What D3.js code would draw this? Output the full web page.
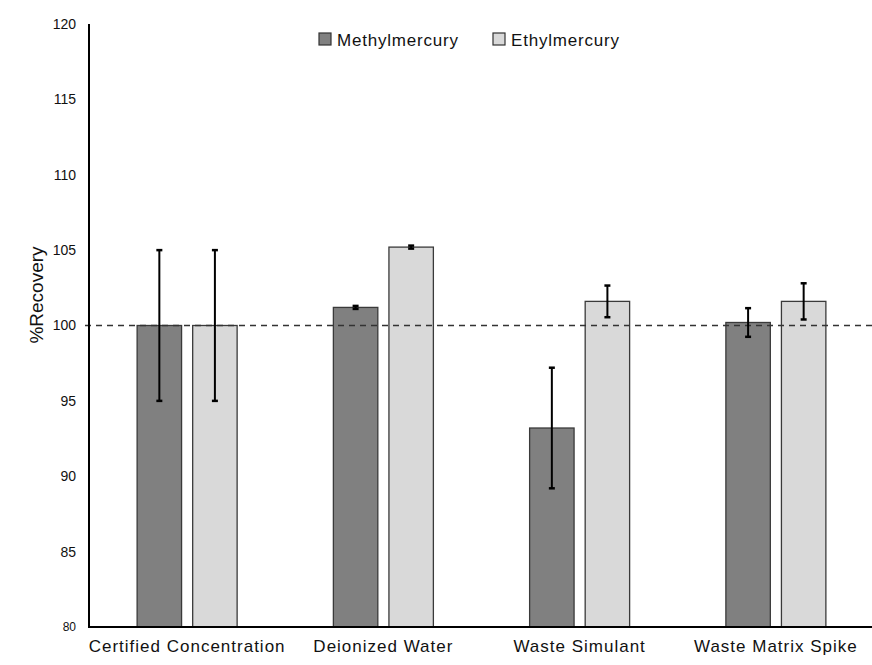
<!DOCTYPE html>
<html>
<head>
<meta charset="UTF-8">
<title>%Recovery</title>
<script src="https://cdn.jsdelivr.net/npm/d3@7"></script>
<style>
  body { margin: 0; background: #fff; }
  svg { display: block; font-family: "Liberation Sans", Arial, sans-serif; }
</style>
</head>
<body>
<script>
// data
var categories = ["Certified Concentration", "Deionized Water", "Waste Simulant", "Waste Matrix Spike"];
var seriesNames = ["Methylmercury", "Ethylmercury"];
var methylValues = [100, 101.2, 93.2, 100.2];
var methylErrors = [5, 0.1, 4.0, 0.95];
var ethylValues = [100, 105.2, 101.6, 101.6];
var ethylErrors = [5, 0.1, 1.05, 1.2];
var yTicks = [80, 85, 90, 95, 100, 105, 110, 115, 120];
var colors = ["#808080", "#d9d9d9"];

var w = 872, h = 665;
var padL = 89, padT = 24, padB = 627, padR = 874;

var svg = d3.select("body").append("svg")
  .attr("width", w)
  .attr("height", h);

var y = d3.scaleLinear().domain([80, 120]).range([padB, padT]);

var x0 = d3.scaleBand().domain(categories).range([padL, padR]).padding(0);
var x1 = d3.scaleBand().domain(seriesNames)
  .range([x0.bandwidth() / 2 - 50, x0.bandwidth() / 2 + 50])
  .paddingInner(0.2);

// build rows
var rows = [];
categories.forEach(function(c, i) {
  rows.push({cat: c, s: seriesNames[0], v: methylValues[i], e: methylErrors[i], col: colors[0]});
  rows.push({cat: c, s: seriesNames[1], v: ethylValues[i], e: ethylErrors[i], col: colors[1]});
});

// bars
svg.append("g").selectAll("rect")
  .data(rows)
  .enter()
  .append("rect")
  .attr("x", function(d) { return x0(d.cat) + x1(d.s); })
  .attr("y", function(d) { return y(d.v); })
  .attr("width", x1.bandwidth())
  .attr("height", function(d) { return y(80) - y(d.v); })
  .attr("fill", function(d) { return d.col; })
  .attr("stroke", "#3a3a3a")
  .attr("stroke-width", 1.3);

// 100% reference line
svg.append("line")
  .attr("x1", padL - 4).attr("x2", w)
  .attr("y1", y(100)).attr("y2", y(100))
  .attr("stroke", "#333")
  .attr("stroke-width", 1.4)
  .attr("stroke-dasharray", "6,5");

// error bars
var err = svg.append("g").selectAll("g")
  .data(rows)
  .enter()
  .append("g")
  .attr("transform", function(d) { return "translate(" + (x0(d.cat) + x1(d.s) + x1.bandwidth() / 2) + ",0)"; });

err.append("line")
  .attr("y1", function(d) { return y(d.v + d.e); })
  .attr("y2", function(d) { return y(d.v - d.e); })
  .attr("stroke", "#000")
  .attr("stroke-width", 2);

err.selectAll(".cap")
  .data(function(d) { return [d.v + d.e, d.v - d.e]; })
  .enter()
  .append("line")
  .attr("x1", -3).attr("x2", 3)
  .attr("y1", function(v) { return y(v); })
  .attr("y2", function(v) { return y(v); })
  .attr("stroke", "#000")
  .attr("stroke-width", 2.5);

// y axis
var yAxis = d3.axisLeft(y).tickValues(yTicks).tickSize(0).tickPadding(13);
var ya = svg.append("g")
  .attr("transform", "translate(" + padL + ",0)")
  .call(yAxis);
ya.select(".domain").remove();
ya.selectAll("text")
  .attr("font-size", function(d) { return d === 80 ? "12px" : "14px"; })
  .attr("font-family", "Liberation Sans, Arial, sans-serif")
  .attr("fill", "#111");

svg.append("line")
  .attr("x1", padL).attr("x2", padL)
  .attr("y1", y(120)).attr("y2", y(80) + 1)
  .attr("stroke", "#000").attr("stroke-width", 2);

// x axis
var xAxis = d3.axisBottom(x0).tickSize(0).tickPadding(13);
var xa = svg.append("g")
  .attr("transform", "translate(0," + padB + ")")
  .call(xAxis);
xa.select(".domain").remove();
xa.selectAll("text")
  .attr("font-size", "17px")
  .attr("letter-spacing", "1px")
  .attr("font-family", "Liberation Sans, Arial, sans-serif")
  .attr("fill", "#111");

svg.append("line")
  .attr("x1", padL - 1).attr("x2", w)
  .attr("y1", padB).attr("y2", padB)
  .attr("stroke", "#000").attr("stroke-width", 2);

// y label
svg.append("text")
  .attr("transform", "translate(43,295) rotate(-90)")
  .attr("text-anchor", "middle")
  .attr("font-size", "19px")
  .attr("fill", "#111")
  .text("%Recovery");

// legend
var legendX = [319, 493];
var lg = svg.append("g").selectAll("g")
  .data(seriesNames)
  .enter()
  .append("g")
  .attr("transform", function(d, i) { return "translate(" + legendX[i] + ",33)"; });
lg.append("rect")
  .attr("width", 12).attr("height", 12)
  .attr("fill", function(d, i) { return colors[i]; })
  .attr("stroke", "#333").attr("stroke-width", 1.2);
lg.append("text")
  .attr("x", 18).attr("y", 13)
  .attr("font-size", "17px")
  .attr("letter-spacing", "0.8px")
  .attr("fill", "#111")
  .text(function(d) { return d; });
</script>
</body>
</html>
